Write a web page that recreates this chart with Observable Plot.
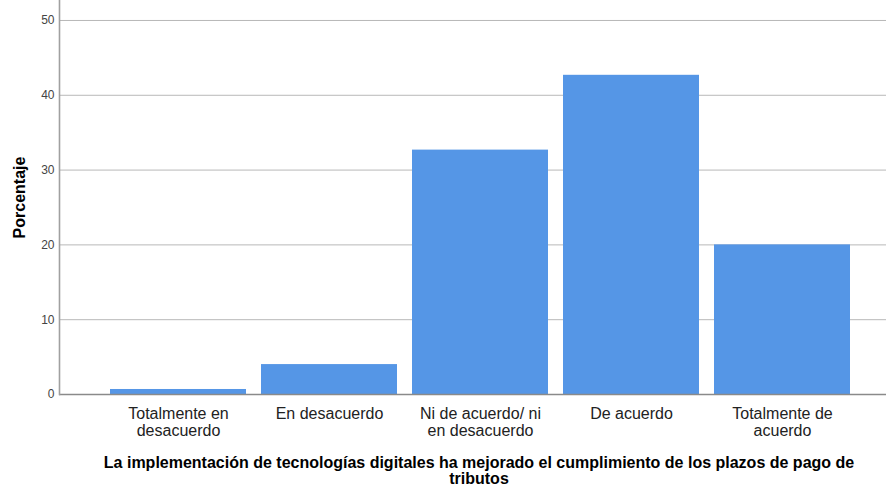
<!DOCTYPE html>
<html>
<head>
<meta charset="utf-8">
<script src="https://cdn.jsdelivr.net/npm/d3@7"></script>
<script src="https://cdn.jsdelivr.net/npm/@observablehq/plot@0.6"></script>
<style>
  html, body { margin: 0; padding: 0; background: #fff; }
  #chart { width: 886px; height: 487px; }
</style>
</head>
<body>
<div id="chart"></div>
<script>
const categorias = [
  "Totalmente en\ndesacuerdo",
  "En desacuerdo",
  "Ni de acuerdo/ ni\nen desacuerdo",
  "De acuerdo",
  "Totalmente de\nacuerdo"
];
const porcentajes = [0.67, 4.0, 32.67, 42.67, 20.0];
const ticksY = [0, 10, 20, 30, 40, 50];
const tituloEjeX = "La implementación de tecnologías digitales ha mejorado el cumplimiento de los plazos de pago de\ntributos";
const tituloEjeY = "Porcentaje";

const datos = categorias.map((c, i) => ({categoria: c, valor: porcentajes[i]}));

const chart = Plot.plot({
  width: 886,
  height: 487,
  marginTop: 0,
  marginLeft: 59,
  marginRight: 0,
  marginBottom: 93,
  style: {fontFamily: "'Liberation Sans', Arial, sans-serif", background: "#fff"},
  x: {domain: categorias, range: [101.5, 858.5], paddingInner: 0.1, paddingOuter: 0.05, label: null},
  y: {domain: [0, 52.67], label: null},
  marks: [
    Plot.gridY(ticksY.filter(d => d > 0), {stroke: "#b8b8b8", strokeOpacity: 1, strokeWidth: 1}),
    Plot.barY(datos, {x: "categoria", y: "valor", fill: "#5596e6", inset: 0}),
    Plot.ruleY([0], {stroke: "#8a8a8a", strokeWidth: 1.3}),
    Plot.frame({anchor: "left", stroke: "#a0a0a0", strokeWidth: 1.6}),
    Plot.axisY({ticks: ticksY, tickSize: 0, tickPadding: 5, label: null, fontSize: 12, fill: "#444"}),
    Plot.axisX({tickSize: 0, tickPadding: 12, label: null, fontSize: 16, fill: "#222", lineHeight: 1.07}),
    Plot.text([tituloEjeY], {frameAnchor: "left", textAnchor: "middle", rotate: -90, dx: -40, fontSize: 16, fontWeight: "bold", fill: "#000", text: d => d}),
    Plot.text([tituloEjeX], {frameAnchor: "bottom", lineAnchor: "top", dx: 6, dy: 62, fontSize: 16, fontWeight: "bold", fill: "#000", lineHeight: 1.02, text: d => d})
  ]
});
document.getElementById("chart").appendChild(chart);
</script>
</body>
</html>
